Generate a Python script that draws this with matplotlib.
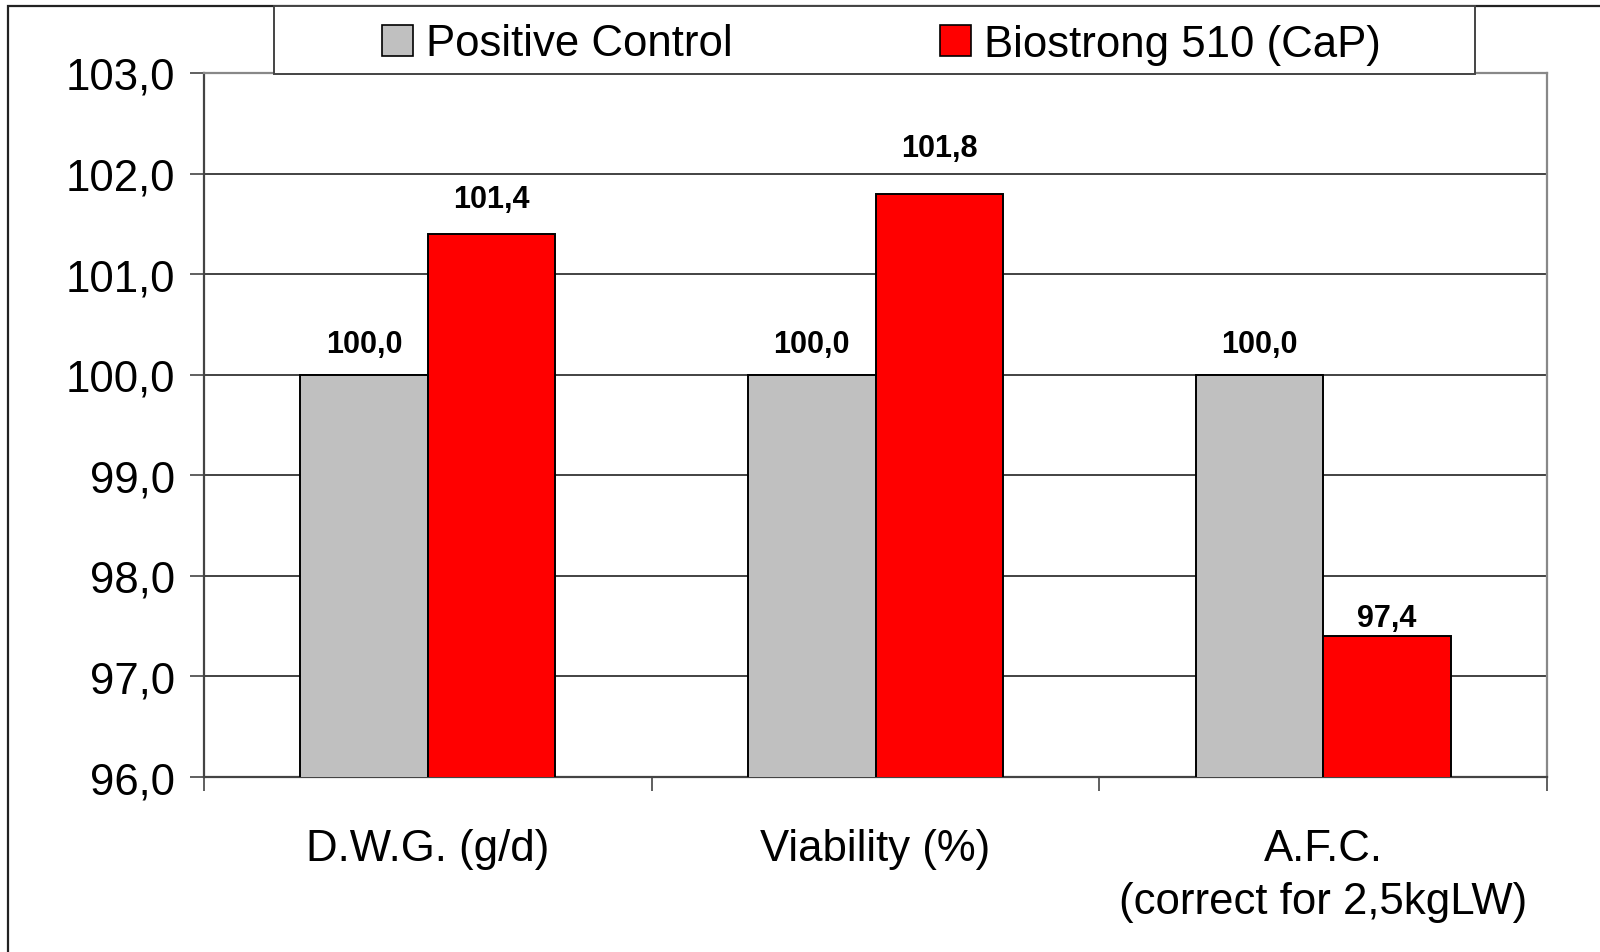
import matplotlib
matplotlib.use("Agg")
import matplotlib.pyplot as plt
import matplotlib.ticker as mticker
from matplotlib.patches import Patch, Rectangle
import numpy as np

plt.rcParams["font.family"] = ["Liberation Sans", "DejaVu Sans"]

CATEGORIES = ["D.W.G. (g/d)", "Viability (%)", "A.F.C.\n(correct for 2,5kgLW)"]
SERIES_NAMES = ["Positive Control", "Biostrong 510 (CaP)"]
POSITIVE_CONTROL = [100.0, 100.0, 100.0]
BIOSTRONG = [101.4, 101.8, 97.4]
COLORS = ["#C0C0C0", "#FF0000"]
Y_MIN, Y_MAX = 96.0, 103.0

# label gap above each bar (points), as placed in the original chart
GAP_CONTROL = [16.5, 16.5, 16.5]
GAP_BIOSTRONG = [19.5, 27.0, 7.0]


def comma_fmt(v, _pos=None):
    return f"{v:.1f}".replace(".", ",")


fig = plt.figure(figsize=(16, 9.53), dpi=100)
ax = fig.add_axes([0.1275, 0.1836, 0.8394, 0.7388])

x = np.arange(len(CATEGORIES))
w = 0.285
bars_a = ax.bar(x - w / 2, POSITIVE_CONTROL, w, bottom=0, color=COLORS[0],
                edgecolor="black", linewidth=1.4, zorder=3)
bars_b = ax.bar(x + w / 2, BIOSTRONG, w, bottom=0, color=COLORS[1],
                edgecolor="black", linewidth=1.4, zorder=3)

for bars, vals, gaps in ((bars_a, POSITIVE_CONTROL, GAP_CONTROL),
                         (bars_b, BIOSTRONG, GAP_BIOSTRONG)):
    for bar, v, g in zip(bars, vals, gaps):
        ax.annotate(comma_fmt(v), (bar.get_x() + bar.get_width() / 2, v),
                    xytext=(0, g), textcoords="offset points",
                    ha="center", va="baseline", fontsize=22, fontweight="bold")

ax.set_xlim(-0.5, len(CATEGORIES) - 0.5)
ax.set_ylim(Y_MIN, Y_MAX)
ax.yaxis.set_major_locator(mticker.MultipleLocator(1.0))
ax.yaxis.set_major_formatter(mticker.FuncFormatter(comma_fmt))
ax.grid(axis="y", color="#222222", linewidth=1.2, zorder=0)

ax.set_xticks(x)
ax.set_xticklabels(CATEGORIES, fontsize=31.5, linespacing=1.36)
ax.set_xticks(np.arange(len(CATEGORIES) + 1) - 0.5, minor=True)
ax.tick_params(axis="x", which="major", length=0, pad=37)
ax.tick_params(axis="x", which="minor", length=10, width=1.2, color="#444444", direction="out")
ax.tick_params(axis="y", labelsize=31.5, length=10, width=1.2, color="#444444", pad=11)

for side in ("left", "bottom"):
    ax.spines[side].set_color("#444444")
    ax.spines[side].set_linewidth(1.6)
for side in ("top", "right"):
    ax.spines[side].set_color("#888888")
    ax.spines[side].set_linewidth(1.6)

# outer chart frame (only top/left are visible in the picture)
fig.add_artist(Rectangle((8 / 1600, -0.5), 2.0, 1.5 - 7 / 953, transform=fig.transFigure,
                         fill=False, edgecolor="#222222", linewidth=1.6))

# legend box
lx0, lx1, ly0, ly1 = 274 / 1600, 1475 / 1600, 1 - 75 / 953, 1 - 7 / 953
fig.add_artist(Rectangle((lx0, ly0), lx1 - lx0, ly1 - ly0, transform=fig.transFigure,
                         facecolor="white", edgecolor="#444444", linewidth=1.4, zorder=5))
handles = [Patch(facecolor=c, edgecolor="black", linewidth=1.2) for c in COLORS]
leg = fig.legend(handles, SERIES_NAMES, loc="center", ncol=2,
                 bbox_to_anchor=((lx0 + lx1) / 2 + 7 / 1600, (ly0 + ly1) / 2 - 4 / 953),
                 frameon=False, fontsize=31.5, handlelength=0.7, handleheight=0.7,
                 handletextpad=0.3, columnspacing=4.75, borderpad=0)
leg.set_zorder(6)

fig.savefig("out.png", dpi=100, facecolor="white")
